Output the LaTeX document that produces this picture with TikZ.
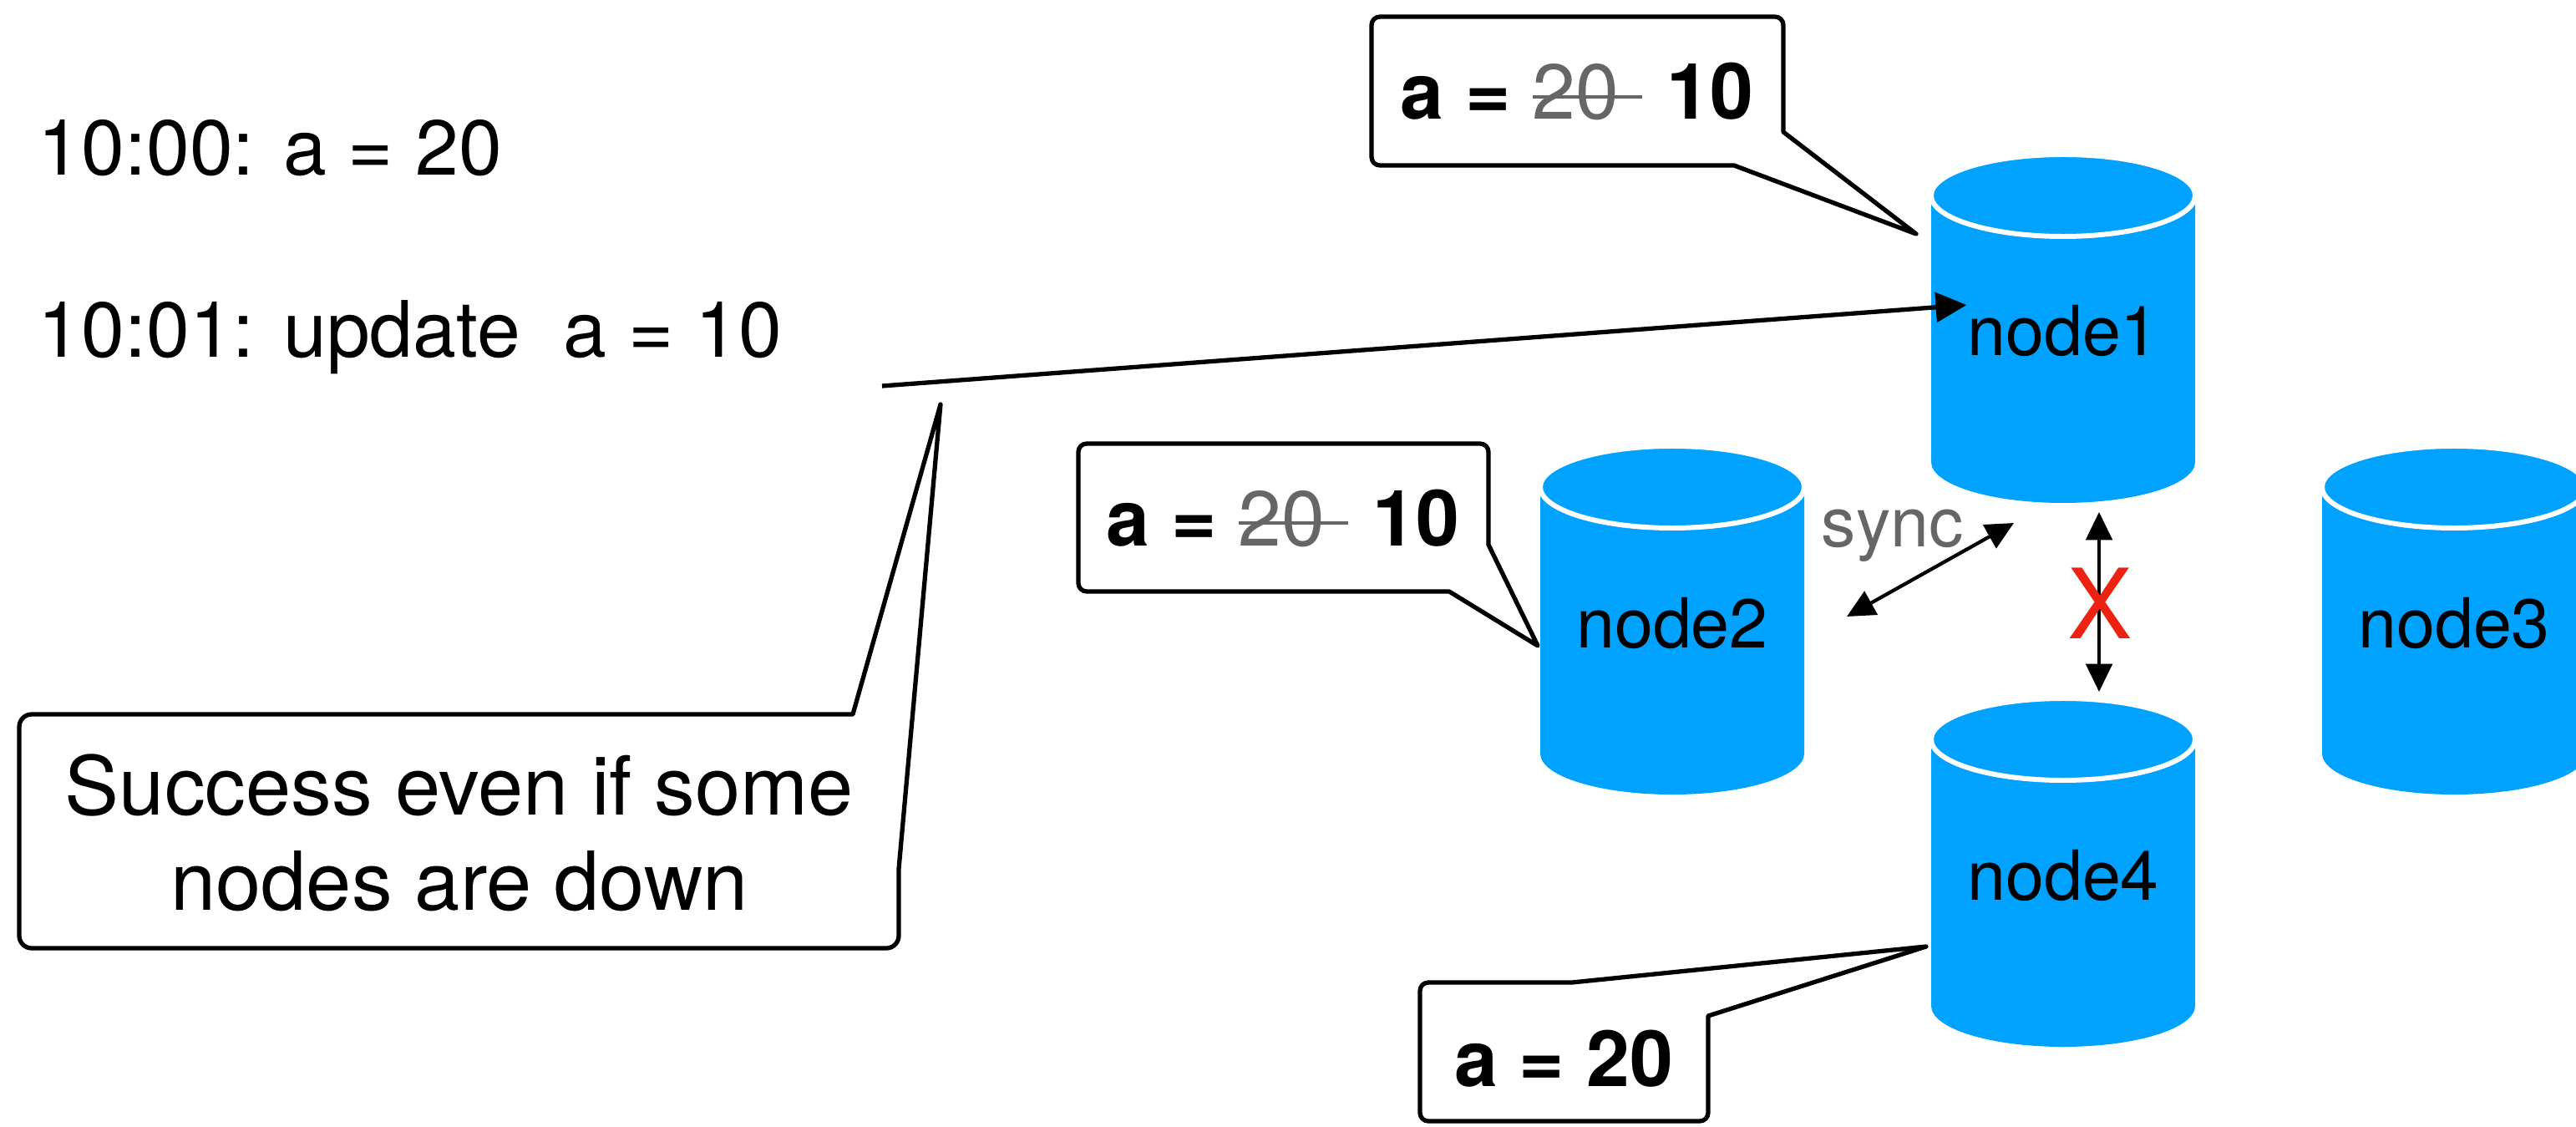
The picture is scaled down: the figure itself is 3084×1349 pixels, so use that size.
\documentclass[tikz,border=0pt]{standalone}
\usepackage{fontspec}
\setmainfont{TeX Gyre Heros}
\usetikzlibrary{arrows.meta}
\definecolor{dbblue}{RGB}{0,162,255}
\definecolor{oldgray}{RGB}{102,102,102}
\definecolor{cutred}{RGB}{236,34,18}
% struck-out old value, the rule runs on into the gap after it
\newcommand{\oldval}[1]{\textcolor{oldgray}{\mdseries\setbox0\hbox{#1}\rlap{\rule[0.27em]{\dimexpr\wd0+0.3em\relax}{0.04em}}#1}\hspace{0.62em}}
% cylinder: name, centre x, top y, label
\newcommand{\dbcyl}[4]{%
\fill [dbblue] (#2-158,#3) -- (#2-158,#3-319) arc [start angle=180,end angle=360,x radius=158,y radius=49] -- (#2+158,#3) -- cycle;
\draw [dbcap] (#2,#3) ellipse [x radius=158,y radius=49];
\draw (#2,#3-192) node [dblabel] (#1) {#4};
}
\begin{document}
\begin{tikzpicture}[x=0.01cm, y=0.01cm,
  every node/.append style={inner sep=0pt},
  dbcap/.style={fill=dbblue, draw=white, line width=1.7pt},
  dblabel/.style={anchor=base, font=\fontsize{23.5}{28}\selectfont},
  logtext/.style={font=\fontsize{26.5}{32.4}\selectfont},
  valtext/.style={anchor=base, font=\fontsize{26.5}{32.4}\selectfont\bfseries},
  callout/.style={draw=black, line width=1.5pt, line join=round},
  link/.style={line width=1.5pt, -{Triangle[length=10.5pt,width=10pt]}},
  synclink/.style={line width=1.2pt, {Triangle[length=9.5pt,width=9pt]}-{Triangle[length=9.5pt,width=9pt]}},
  synctext/.style={anchor=base west, text=oldgray, font=\fontsize{23.5}{28}\selectfont},
  cutmark/.style={text=cutred, font=\fontsize{33}{40}\selectfont}]
\clip (0,0) rectangle (3084,-1349);

\dbcyl{n1}{2470}{-234}{node1}
\dbcyl{n2}{2002}{-583}{node2}
\dbcyl{n3}{2938}{-583}{node3}
\dbcyl{n4}{2470}{-885}{node4}

\draw (45,-210) node [logtext, anchor=base west] (t0) {10:00: a = 20};
\draw (45,-428) node [logtext, anchor=base west] (t1) {10:01: update\ \ a = 10};

% callouts
\draw [callout] (1652,-20) -- (2125,-20) arc [start angle=90,end angle=0,radius=10] -- (2135,-158) -- (2294,-280) -- (2076,-198) -- (1652,-198) arc [start angle=270,end angle=180,radius=10] -- (1642,-30) arc [start angle=180,end angle=90,radius=10] -- cycle;
\draw (1888,-143) node [valtext] (v1) {a = \oldval{20}10};

\draw [callout] (1301,-531) -- (1772,-531) arc [start angle=90,end angle=0,radius=10] -- (1782,-652) -- (1841,-773) -- (1735,-708) -- (1301,-708) arc [start angle=270,end angle=180,radius=10] -- (1291,-541) arc [start angle=180,end angle=90,radius=10] -- cycle;
\draw (1536,-653) node [valtext] (v2) {a = \oldval{20}10};

\draw [callout] (1700,-1186) arc [start angle=180,end angle=90,radius=10] -- (1882,-1176) -- (2306,-1133) -- (2045,-1216) -- (2045,-1332) arc [start angle=0,end angle=-90,radius=10] -- (1710,-1342) arc [start angle=270,end angle=180,radius=10] -- cycle;
\draw (1872,-1300) node [valtext] (v4) {a = 20};

\draw [callout] (23,-870) arc [start angle=180,end angle=90,radius=15] -- (1021,-855) -- (1126,-484) -- (1076,-1040) -- (1076,-1120) arc [start angle=0,end angle=-90,radius=15] -- (38,-1135) arc [start angle=270,end angle=180,radius=15] -- cycle;
\draw (550,-997) node [logtext, align=center, font=\fontsize{27.7}{32.4}\selectfont] (note) {Success even if some\\nodes are down};

% write, sync and the cut link
\coordinate (wstart) at (1056,-462);
\draw [link] (wstart) -- (n1.north west);

\coordinate (s2) at (2211,-738);
\coordinate (s1) at (2411,-626);
\draw [synclink] (s2) -- (s1);
\draw (2180,-654) node [synctext] (sync) {sync};

\coordinate (b1) at (2513,-613);
\coordinate (b4) at (2513,-828);
\draw [synclink, line width=1pt] (b1) -- (b4);
\draw (2514,-722) node [cutmark] (cut) {X};
\end{tikzpicture}
\end{document}
